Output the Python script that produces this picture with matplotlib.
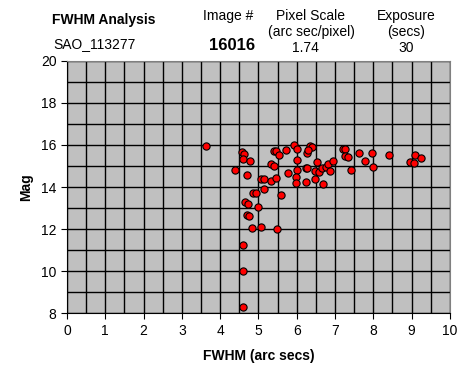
# FWHM vs magnitude scatter, Excel-style chart

import matplotlib.pyplot as plt
from matplotlib.ticker import MultipleLocator

plt.rcParams['font.family'] = ['Liberation Sans', 'DejaVu Sans']

fwhm = [3.63, 4.56, 4.62, 4.61, 4.77, 4.40, 4.70, 5.07, 5.14, 5.32,
        5.46, 5.00, 5.14, 4.86, 4.93, 4.66, 4.73, 5.59, 5.40, 5.46,
        5.54, 5.72, 5.34, 5.40, 5.93, 6.01, 6.34, 6.40, 6.27, 6.30,
        6.02, 5.76, 6.02, 5.97, 5.97, 6.23, 6.27, 6.23, 6.54, 6.47,
        6.49, 6.58, 6.65, 6.77, 6.81, 6.86, 6.68, 6.96, 7.20, 7.25,
        7.26, 7.34, 7.64, 7.96, 7.78, 7.42, 8.00, 8.42, 9.09, 8.97,
        9.06, 9.26, 4.71, 4.75, 4.82, 5.08, 5.48, 4.59, 4.61, 4.59]
mag = [15.93, 15.65, 15.56, 15.32, 15.22, 14.80, 14.56, 14.37, 14.37, 14.28,
       14.42, 13.07, 13.89, 13.73, 13.73, 13.28, 13.19, 13.62, 15.70, 15.73,
       15.51, 15.74, 15.08, 14.99, 16.01, 15.82, 15.97, 15.89, 15.62, 15.74,
       15.27, 14.66, 14.80, 14.47, 14.20, 14.91, 14.89, 14.23, 15.18, 14.75,
       14.37, 14.71, 14.88, 14.96, 15.08, 14.75, 14.14, 15.22, 15.79, 15.79,
       15.46, 15.42, 15.60, 15.60, 15.22, 14.80, 14.94, 15.51, 15.51, 15.18,
       15.13, 15.37, 12.69, 12.61, 12.04, 12.10, 12.01, 11.25, 10.02, 8.32]

fig = plt.figure(figsize=(4.72, 3.84), dpi=100)
ax = fig.add_axes([0.142, 0.184, 0.811, 0.658])
ax.set_facecolor('#C0C0C0')

ax.plot(fwhm, mag, 'o', color='red', mec='black', mew=0.8, ms=5.2, zorder=3)

ax.set_xlim(0, 10)
ax.set_ylim(8, 20)
ax.xaxis.set_major_locator(MultipleLocator(1))
ax.xaxis.set_minor_locator(MultipleLocator(0.5))
ax.yaxis.set_major_locator(MultipleLocator(2))
ax.yaxis.set_minor_locator(MultipleLocator(1))
ax.grid(which='both', color='black', lw=1.0)
ax.set_axisbelow(True)
ax.tick_params(which='major', direction='out', length=4, labelsize=10, color='black')
ax.tick_params(which='minor', length=0)
for s in ['top', 'right']:
    ax.spines[s].set_color('#808080')
for s in ['left', 'bottom']:
    ax.spines[s].set_color('black')

ax.set_xlabel('FWHM (arc secs)', fontsize=10, fontweight='bold', labelpad=8)
ax.set_ylabel('Mag', fontsize=10, fontweight='bold', labelpad=6)

# header block
fig.text(52/472, 1 - 20/384, 'FWHM Analysis', fontsize=10, fontweight='bold', va='center')
fig.text(53/472, 1 - 44/384, 'SAO_113277', fontsize=10, va='center')
fig.text(228/472, 1 - 16/384, 'Image #', fontsize=10, ha='center', va='center')
fig.text(232/472, 1 - 46/384, '16016', fontsize=12, fontweight='bold', ha='center', va='center')
fig.text(311/472, 1 - 16/384, 'Pixel Scale', fontsize=10, ha='center', va='center')
fig.text(311/472, 1 - 32/384, '(arc sec/pixel)', fontsize=10, ha='center', va='center')
fig.text(305/472, 1 - 48/384, '1.74', fontsize=10, ha='center', va='center')
fig.text(406/472, 1 - 16/384, 'Exposure', fontsize=10, ha='center', va='center')
fig.text(406/472, 1 - 32/384, '(secs)', fontsize=10, ha='center', va='center')
fig.text(406/472, 1 - 48/384, '30', fontsize=10, ha='center', va='center')

fig.savefig('out.png', dpi=100)
